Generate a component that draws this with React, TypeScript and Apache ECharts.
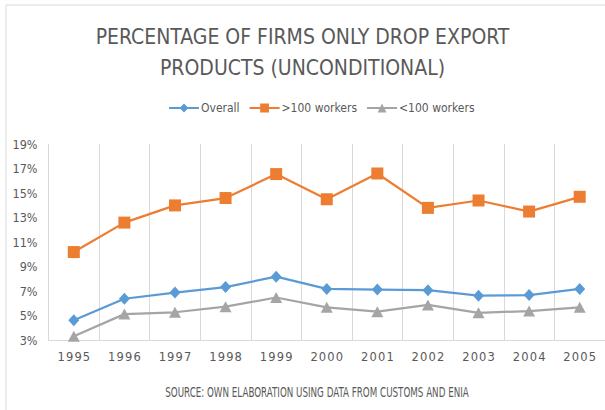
import React, { useEffect, useRef } from "react";
import * as echarts from "echarts";

const years = ["1995", "1996", "1997", "1998", "1999", "2000", "2001", "2002", "2003", "2004", "2005"];
const overall = [4.65, 6.4, 6.9, 7.35, 8.2, 7.2, 7.15, 7.1, 6.65, 6.7, 7.2];
const large = [10.2, 12.6, 14.0, 14.6, 16.55, 14.5, 16.6, 13.8, 14.4, 13.5, 14.7];
const small = [3.35, 5.15, 5.3, 5.75, 6.5, 5.7, 5.35, 5.9, 5.25, 5.4, 5.7];
const seriesNames = ["Overall", ">100 workers", "<100 workers"];
const titleText = "PERCENTAGE OF FIRMS ONLY DROP EXPORT\nPRODUCTS (UNCONDITIONAL)";
const sourceText = "SOURCE: OWN ELABORATION USING DATA FROM CUSTOMS AND ENIA";

const FONT = "'DejaVu Sans Condensed', 'DejaVu Sans', sans-serif";
const GREY = "#595959";

export default function App() {
  const ref = useRef<HTMLDivElement>(null);
  useEffect(() => {
    if (!ref.current) return;
    const chart = echarts.init(ref.current, null, { renderer: "svg" });
    chart.setOption({
      animation: false,
      backgroundColor: "#ffffff",
      title: {
        text: titleText,
        left: "center",
        top: 16,
        textStyle: {
          fontFamily: FONT,
          fontSize: 21,
          fontWeight: "normal",
          color: GREY,
          lineHeight: 31,
        },
      },
      legend: {
        top: 97,
        left: 163,
        itemWidth: 30,
        itemHeight: 11,
        itemGap: 9,
        textStyle: { fontFamily: FONT, fontSize: 12, color: GREY, padding: [0, 0, 0, -3] },
        data: seriesNames,
      },
      graphic: [
        {
          type: "rect",
          shape: { x: 6, y: 5, width: 620, height: 420 },
          style: { fill: "none", stroke: "#d9d9d9", lineWidth: 1 },
          silent: true,
          z: -1,
        },
        {
          type: "text",
          x: 317,
          y: 392,
          scaleX: 0.72,
          style: {
            text: sourceText,
            fontFamily: FONT,
            fontSize: 13.5,
            fill: GREY,
            align: "center",
            verticalAlign: "middle",
          },
        },
      ],
      grid: { left: 48.5, right: -3.5, top: 144, bottom: 69.5 },
      xAxis: {
        type: "category",
        data: years,
        boundaryGap: true,
        axisLine: { lineStyle: { color: "#d9d9d9", width: 1 } },
        axisTick: { show: false },
        splitLine: { show: true, interval: 0, lineStyle: { color: "#d9d9d9", width: 1 } },
        axisLabel: {
          fontFamily: "'DejaVu Sans', sans-serif",
          fontSize: 11.5,
          color: GREY,
          margin: 10,
          interval: 0,
          formatter: (v: string) => v.split("").join("\u200A"),
        },
      },
      yAxis: {
        type: "value",
        min: 3,
        max: 19,
        interval: 2,
        axisLine: { show: false },
        axisTick: { show: false },
        splitLine: { show: false },
        axisLabel: {
          fontFamily: FONT,
          fontSize: 12.5,
          color: GREY,
          margin: 11,
          formatter: "{value}%",
        },
      },
      series: [
        {
          name: seriesNames[0],
          type: "line",
          data: overall,
          symbol: "diamond",
          symbolSize: [11, 12],
          lineStyle: { color: "#5B9BD5", width: 2.25 },
          itemStyle: { color: "#5B9BD5" },
        },
        {
          name: seriesNames[1],
          type: "line",
          data: large,
          symbol: "rect",
          symbolSize: 12,
          lineStyle: { color: "#ED7D31", width: 2.25 },
          itemStyle: { color: "#ED7D31" },
        },
        {
          name: seriesNames[2],
          type: "line",
          data: small,
          symbol: "triangle",
          symbolSize: [12, 11],
          lineStyle: { color: "#A5A5A5", width: 2.25 },
          itemStyle: { color: "#A5A5A5" },
        },
      ],
    });
    return () => chart.dispose();
  }, []);
  return (
    <div
      ref={ref}
      style={{ position: "fixed", left: 0, top: 0, width: 605, height: 410 }}
    />
  );
}
